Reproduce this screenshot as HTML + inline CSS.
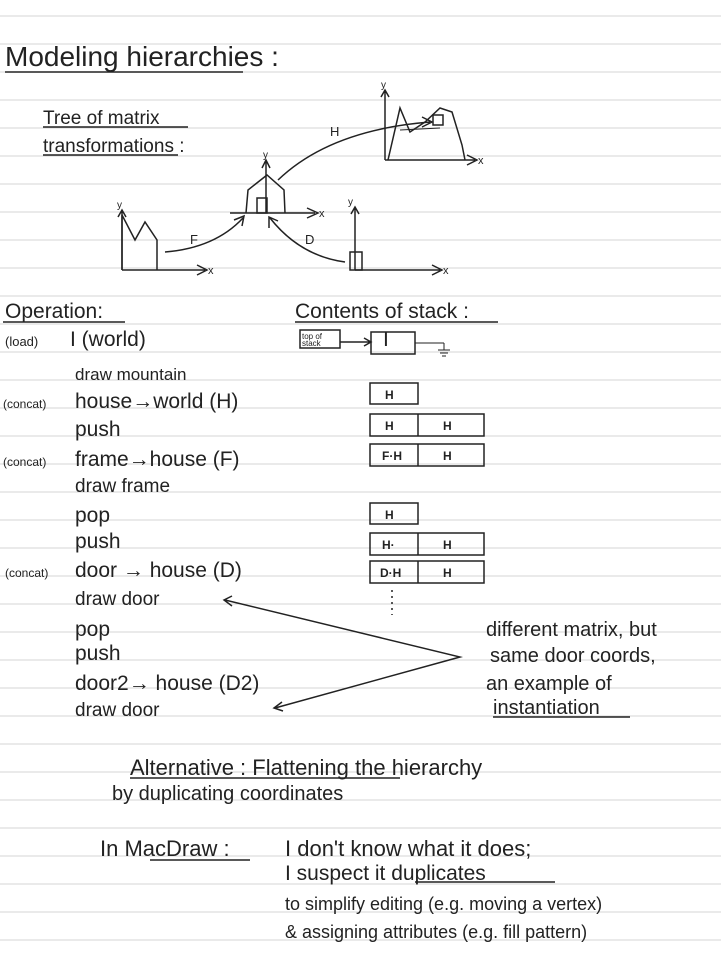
<!DOCTYPE html>
<html><head><meta charset="utf-8"><style>
html,body{margin:0;padding:0;background:#fff}
svg{display:block}
text{font-family:"Liberation Sans",sans-serif;fill:#222}
</style></head><body>
<svg width="721" height="961" viewBox="0 0 721 961" xmlns="http://www.w3.org/2000/svg">
<g stroke="#d4d4d4" stroke-width="1">
<line x1="0" y1="16" x2="721" y2="16"/><line x1="0" y1="44" x2="721" y2="44"/><line x1="0" y1="72" x2="721" y2="72"/>
<line x1="0" y1="100" x2="721" y2="100"/><line x1="0" y1="128" x2="721" y2="128"/><line x1="0" y1="156" x2="721" y2="156"/>
<line x1="0" y1="184" x2="721" y2="184"/><line x1="0" y1="212" x2="721" y2="212"/><line x1="0" y1="240" x2="721" y2="240"/>
<line x1="0" y1="268" x2="721" y2="268"/><line x1="0" y1="296" x2="721" y2="296"/><line x1="0" y1="324" x2="721" y2="324"/>
<line x1="0" y1="352" x2="721" y2="352"/><line x1="0" y1="380" x2="721" y2="380"/><line x1="0" y1="408" x2="721" y2="408"/>
<line x1="0" y1="436" x2="721" y2="436"/><line x1="0" y1="464" x2="721" y2="464"/><line x1="0" y1="492" x2="721" y2="492"/>
<line x1="0" y1="520" x2="721" y2="520"/><line x1="0" y1="548" x2="721" y2="548"/><line x1="0" y1="576" x2="721" y2="576"/>
<line x1="0" y1="604" x2="721" y2="604"/><line x1="0" y1="632" x2="721" y2="632"/><line x1="0" y1="660" x2="721" y2="660"/>
<line x1="0" y1="688" x2="721" y2="688"/><line x1="0" y1="716" x2="721" y2="716"/><line x1="0" y1="744" x2="721" y2="744"/>
<line x1="0" y1="772" x2="721" y2="772"/><line x1="0" y1="800" x2="721" y2="800"/><line x1="0" y1="828" x2="721" y2="828"/>
<line x1="0" y1="856" x2="721" y2="856"/><line x1="0" y1="884" x2="721" y2="884"/><line x1="0" y1="912" x2="721" y2="912"/>
<line x1="0" y1="940" x2="721" y2="940"/>
</g>
<g stroke="#222" stroke-width="1.5" fill="none">
<!-- underlines -->
<line x1="5" y1="72" x2="243" y2="72"/>
<line x1="43" y1="127" x2="188" y2="127"/><line x1="43" y1="155" x2="178" y2="155"/>
<line x1="3" y1="322" x2="125" y2="322"/><line x1="295" y1="322" x2="498" y2="322"/>
<line x1="493" y1="717" x2="630" y2="717"/>
<line x1="130" y1="778" x2="400" y2="778"/>
<line x1="150" y1="860" x2="250" y2="860"/><line x1="415" y1="882" x2="555" y2="882"/>
<!-- left house -->
<path d="M122 270 L122 215 L135 240 L145 222 L157 240 L157 270"/>
<path d="M122 270 L205 270 M197 265 L207 270 L197 275 M122 270 L122 210 M118 217 L122 210 L126 217"/>
<!-- center house -->
<path d="M230 213 L315 213 M307 208 L318 213 L307 218"/>
<path d="M246 213 L248 190 L267 175 L284 190 L285 213"/>
<path d="M266 213 L266 160 M262 168 L266 160 L270 168"/>
<rect x="257" y="198" width="10" height="15"/>
<!-- door frame -->
<path d="M355 270 L440 270 M432 265 L442 270 L432 275 M355 270 L355 207 M351 214 L355 207 L359 214"/>
<rect x="350" y="252" width="12" height="18"/>
<!-- mountain -->
<path d="M385 160 L475 160 M467 155 L477 160 L467 165 M385 160 L385 90 M381 97 L385 90 L389 97"/>
<path d="M388 160 L400 108 L410 132 L425 122 L440 108 L452 112 L462 145 L465 160"/>
<path d="M400 130 L440 128" stroke-width="1"/>
<rect x="433" y="115" width="10" height="10"/>
<!-- arrows -->
<path d="M165 252 Q215 248 243 218 M234 220 L244 216 L242 226"/>
<path d="M345 262 Q300 256 270 218 M269 228 L269 217 L278 221"/>
<path d="M278 180 Q330 130 430 122 M422 117 L432 122 L422 127"/>
<!-- stack -->
<path d="M340 342 L370 342 M364 338 L371 342 L364 346"/>
<rect x="300" y="330" width="40" height="18"/>
<rect x="371" y="332" width="44" height="22"/>
<path d="M415 343 L444 343 M444 343 L444 350 M438 350 L450 350 M440 353 L448 353 M442 356 L446 356" stroke-width="1"/>
<rect x="370" y="383" width="48" height="21"/>
<rect x="370" y="414" width="114" height="22"/><line x1="418" y1="414" x2="418" y2="436"/>
<rect x="370" y="444" width="114" height="22"/><line x1="418" y1="444" x2="418" y2="466"/>
<rect x="370" y="503" width="48" height="21"/>
<rect x="370" y="533" width="114" height="22"/><line x1="418" y1="533" x2="418" y2="555"/>
<rect x="370" y="561" width="114" height="22"/><line x1="418" y1="561" x2="418" y2="583"/>
<line x1="392" y1="590" x2="392" y2="615" stroke-dasharray="2 4"/>
<!-- instantiation lines -->
<path d="M225 600 L460 657 L275 708 M232 596 L224 600 L232 606 M282 702 L274 708 L283 711"/>
</g>
<g font-size="28">
<text x="5" y="66">Modeling hierarchies :</text>
</g>
<g font-size="19">
<text x="43" y="124">Tree of matrix</text>
<text x="43" y="152">transformations :</text>
</g>
<g font-size="13">
<text x="190" y="244">F</text><text x="305" y="244">D</text><text x="330" y="136">H</text>
<text x="117" y="208" font-size="10">y</text><text x="263" y="158" font-size="10">y</text><text x="348" y="205" font-size="10">y</text><text x="381" y="88" font-size="10">y</text>
<text x="208" y="274" font-size="11">x</text><text x="319" y="217" font-size="11">x</text><text x="443" y="274" font-size="11">x</text><text x="478" y="164" font-size="11">x</text>
</g>
<g font-size="21">
<text x="5" y="318">Operation:</text>
<text x="295" y="318">Contents of stack :</text>
<text x="5" y="346" font-size="13">(load)</text><text x="70" y="346">I (world)</text>
<text x="75" y="380" font-size="17">draw mountain</text>
<text x="3" y="408" font-size="12">(concat)</text><text x="75" y="408">house→world (H)</text>
<text x="75" y="436">push</text>
<text x="3" y="466" font-size="12">(concat)</text><text x="75" y="466">frame→house (F)</text>
<text x="75" y="492" font-size="19">draw frame</text>
<text x="75" y="522">pop</text>
<text x="75" y="548">push</text>
<text x="5" y="577" font-size="12">(concat)</text><text x="75" y="577">door → house (D)</text>
<text x="75" y="605" font-size="19">draw door</text>
<text x="75" y="636">pop</text>
<text x="75" y="660">push</text>
<text x="75" y="690">door2→ house (D2)</text>
<text x="75" y="716" font-size="19">draw door</text>
<text x="383" y="346">I</text>
</g>
<g font-size="12" font-weight="bold">
<text x="302" y="339" font-size="8" font-weight="normal">top of</text><text x="302" y="346" font-size="8" font-weight="normal">stack</text>
<text x="385" y="399">H</text><text x="385" y="430">H</text><text x="443" y="430">H</text>
<text x="382" y="460">F·H</text><text x="443" y="460">H</text>
<text x="385" y="519">H</text><text x="382" y="549">H·</text><text x="443" y="549">H</text>
<text x="380" y="577">D·H</text><text x="443" y="577">H</text>
</g>
<g font-size="20">
<text x="486" y="636">different matrix, but</text>
<text x="490" y="662">same door coords,</text>
<text x="486" y="690">an example of</text>
<text x="493" y="714">instantiation</text>
<text x="130" y="775" font-size="22">Alternative : Flattening the hierarchy</text>
<text x="112" y="800">by duplicating coordinates</text>
<text x="100" y="856" font-size="22">In MacDraw :</text>
<text x="285" y="856" font-size="22">I don't know what it does;</text>
<text x="285" y="880" font-size="21">I suspect it duplicates</text>
<text x="285" y="910" font-size="18">to simplify editing (e.g. moving a vertex)</text>
<text x="285" y="938" font-size="18">&amp; assigning attributes (e.g. fill pattern)</text>
</g>
</svg>
</body></html>
